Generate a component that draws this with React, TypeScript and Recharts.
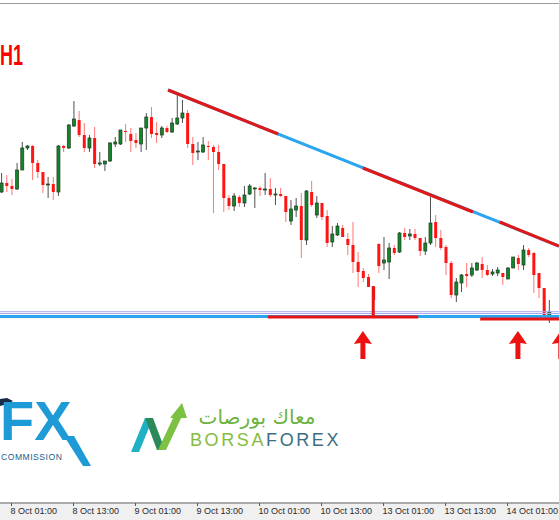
import React from 'react';
import { ComposedChart, Bar, XAxis, YAxis, ReferenceLine, ReferenceDot } from 'recharts';

// H1 candles, 7 Oct 23:00 -> 14 Oct 09:00 (weekend gap after bar 72)
const open = [
  1.1708, 1.1717, 1.1714, 1.1711, 1.1730, 1.1752, 1.1754, 1.1737, 1.1728, 1.1715,
  1.1716, 1.1708, 1.1754, 1.1752, 1.1774, 1.1780, 1.1765, 1.1752, 1.1762, 1.1736,
  1.1736, 1.1739, 1.1756, 1.1756, 1.1769, 1.1766, 1.1760, 1.1756, 1.1772, 1.1783,
  1.1767, 1.1765, 1.1772, 1.1768, 1.1776, 1.1782, 1.1787, 1.1756, 1.1748, 1.1748,
  1.1754, 1.1753, 1.1748, 1.1736, 1.1702, 1.1694, 1.1703, 1.1697, 1.1706, 1.1711,
  1.1712, 1.1710, 1.1711, 1.1705, 1.1706, 1.1704, 1.1679, 1.1690, 1.1694, 1.1660,
  1.1708, 1.1685, 1.1697, 1.1684, 1.1658, 1.1665, 1.1672, 1.1661, 1.1655, 1.1638,
  1.1629, 1.1623, 1.1613, 1.1656, 1.1637, 1.1638, 1.1652, 1.1648, 1.1667, 1.1664,
  1.1666, 1.1662, 1.1649, 1.1657, 1.1678, 1.1662, 1.1653, 1.1637, 1.1605, 1.1617,
  1.1626, 1.1625, 1.1630, 1.1636, 1.1630, 1.1626, 1.1627, 1.1627, 1.1621, 1.1632,
  1.1642, 1.1635, 1.1650, 1.1647, 1.1627, 1.1612, 1.1584,
];
const high = [
  1.1727, 1.1725, 1.1721, 1.1737, 1.1758, 1.1755, 1.1755, 1.1740, 1.1728, 1.1723,
  1.1723, 1.1755, 1.1755, 1.1776, 1.1799, 1.1789, 1.1777, 1.1765, 1.1773, 1.1748,
  1.1739, 1.1758, 1.1763, 1.1770, 1.1776, 1.1772, 1.1767, 1.1772, 1.1787, 1.1793,
  1.1778, 1.1774, 1.1774, 1.1782, 1.1807, 1.1800, 1.1790, 1.1763, 1.1758, 1.1763,
  1.1759, 1.1755, 1.1755, 1.1736, 1.1705, 1.1707, 1.1705, 1.1714, 1.1716, 1.1713,
  1.1714, 1.1727, 1.1722, 1.1712, 1.1712, 1.1704, 1.1700, 1.1702, 1.1707, 1.1710,
  1.1719, 1.1704, 1.1697, 1.1690, 1.1674, 1.1677, 1.1675, 1.1667, 1.1678, 1.1648,
  1.1632, 1.1626, 1.1614, 1.1657, 1.1663, 1.1657, 1.1655, 1.1668, 1.1672, 1.1671,
  1.1671, 1.1662, 1.1663, 1.1703, 1.1685, 1.1670, 1.1655, 1.1639, 1.1622, 1.1626,
  1.1637, 1.1637, 1.1638, 1.1643, 1.1635, 1.1631, 1.1633, 1.1627, 1.1633, 1.1643,
  1.1645, 1.1655, 1.1652, 1.1648, 1.1627, 1.1612, 1.1600,
];
const low = [
  1.1707, 1.1708, 1.1705, 1.1710, 1.1730, 1.1750, 1.1720, 1.1722, 1.1707, 1.1702,
  1.1700, 1.1704, 1.1748, 1.1751, 1.1773, 1.1763, 1.1748, 1.1748, 1.1732, 1.1734,
  1.1729, 1.1738, 1.1753, 1.1755, 1.1758, 1.1748, 1.1752, 1.1748, 1.1750, 1.1762,
  1.1757, 1.1762, 1.1767, 1.1767, 1.1775, 1.1777, 1.1752, 1.1735, 1.1740, 1.1747,
  1.1740, 1.1687, 1.1730, 1.1688, 1.1690, 1.1689, 1.1693, 1.1693, 1.1705, 1.1692,
  1.1704, 1.1705, 1.1703, 1.1695, 1.1703, 1.1678, 1.1675, 1.1683, 1.1642, 1.1655,
  1.1693, 1.1682, 1.1680, 1.1653, 1.1653, 1.1664, 1.1663, 1.1645, 1.1627, 1.1613,
  1.1618, 1.1613, 1.1597, 1.1627, 1.1630, 1.1621, 1.1645, 1.1647, 1.1660, 1.1660,
  1.1660, 1.1644, 1.1645, 1.1655, 1.1653, 1.1650, 1.1625, 1.1602, 1.1598, 1.1608,
  1.1613, 1.1623, 1.1629, 1.1622, 1.1624, 1.1624, 1.1624, 1.1615, 1.1621, 1.1632,
  1.1630, 1.1630, 1.1643, 1.1607, 1.1602, 1.1583, 1.1577,
];
const close = [
  1.1717, 1.1714, 1.1711, 1.1730, 1.1752, 1.1754, 1.1737, 1.1728, 1.1715, 1.1716,
  1.1708, 1.1754, 1.1752, 1.1775, 1.1781, 1.1765, 1.1752, 1.1762, 1.1736, 1.1737,
  1.1739, 1.1757, 1.1758, 1.1770, 1.1768, 1.1759, 1.1757, 1.1772, 1.1783, 1.1766,
  1.1765, 1.1772, 1.1768, 1.1777, 1.1782, 1.1787, 1.1756, 1.1747, 1.1749, 1.1755,
  1.1753, 1.1748, 1.1736, 1.1702, 1.1694, 1.1704, 1.1697, 1.1705, 1.1714, 1.1712,
  1.1710, 1.1711, 1.1705, 1.1706, 1.1704, 1.1688, 1.1691, 1.1694, 1.1660, 1.1709,
  1.1695, 1.1697, 1.1683, 1.1657, 1.1666, 1.1674, 1.1663, 1.1655, 1.1638, 1.1628,
  1.1622, 1.1613, 1.1600, 1.1634, 1.1640, 1.1652, 1.1647, 1.1667, 1.1663, 1.1666,
  1.1662, 1.1649, 1.1657, 1.1677, 1.1662, 1.1652, 1.1637, 1.1605, 1.1618, 1.1625,
  1.1624, 1.1632, 1.1637, 1.1630, 1.1625, 1.1628, 1.1630, 1.1623, 1.1632, 1.1643,
  1.1636, 1.1650, 1.1645, 1.1625, 1.1612, 1.1584, 1.1588,
];

const tickBars = [2, 14, 26, 38, 50, 62, 74, 86, 98];
const tickLabels = [
  '8 Oct 01:00', '8 Oct 13:00', '9 Oct 01:00', '9 Oct 13:00', '10 Oct 01:00',
  '10 Oct 13:00', '13 Oct 01:00', '13 Oct 13:00', '14 Oct 01:00',
];

// drawn objects: [barFrom, priceFrom, barTo, priceTo]
const trendLine = [32.3, 1.181, 107.95, 1.1654];
const trendRedParts = [
  [32.3, 1.181, 53.6, 1.1766],
  [70, 1.1732, 91.3, 1.1688],
  [96.5, 1.1678, 107.95, 1.1654],
];
const supportLevel = 1.15835;
// [barFrom, barTo, price]
const supportRedParts = [
  [51.6, 80.7, 1.1583],
  [92.7, 107.95, 1.1581],
];
const thinLevels = [1.15883, 1.15865];
const touchBar = 72;
const arrowBars = [70, 100, 108.3];
const arrowTip = 1.1569;

const X_DOMAIN: [number, number] = [-0.23, 107.95];
const Y_DOMAIN: [number, number] = [1.1397, 1.1897];

const candles = open.map((o, i) => ({
  i,
  open: o,
  high: high[i],
  low: low[i],
  close: close[i],
  range: [low[i], high[i]],
}));

const Candle = (props: any) => {
  const { x, y, width, height, payload } = props;
  if (x == null || y == null) return null;
  const top = Math.min(y, y + height);
  const h = Math.abs(height);
  const cx = x + width / 2;
  const { open: o, close: c, high: hi, low: lo } = payload;
  const span = hi - lo || 1;
  const py = (p: number) => top + ((hi - p) / span) * h;
  const bull = c >= o;
  const bodyTop = py(Math.max(o, c));
  const bodyH = Math.max(1, py(Math.min(o, c)) - bodyTop);
  return (
    <g>
      <line x1={cx} x2={cx} y1={top} y2={top + h} stroke={bull ? '#505050' : '#ff7676'} strokeWidth={1} />
      <rect
        x={cx - 1.5}
        y={bodyTop}
        width={3}
        height={bodyH}
        fill={bull ? '#13862a' : '#ff1414'}
        stroke={bull ? '#1e3a22' : 'none'}
        strokeWidth={0.7}
      />
    </g>
  );
};

const AxisTick = (props: any) => {
  const { x, y, payload } = props;
  const label = tickLabels[tickBars.indexOf(payload.value)];
  return (
    <g>
      <line x1={x} x2={x} y1={y} y2={y + 3} stroke="#555" />
      <text x={x - 1} y={y + 10.5} textAnchor="start" fontSize={9} fontFamily="Liberation Sans, Arial, sans-serif" fill="#2a2a2a">
        {label}
      </text>
    </g>
  );
};

const UpArrow = ({ cx, cy }: { cx: number; cy: number }) => (
  <path
    d={`M${cx} ${cy} L${cx + 9} ${cy + 13} L${cx + 2.5} ${cy + 12} L${cx + 2.5} ${cy + 28} L${cx - 2.5} ${cy + 28} L${cx - 2.5} ${cy + 12} L${cx - 9} ${cy + 13} Z`}
    fill="#ee1111"
  />
);

const Logos = () => (
  <svg width={559} height={520} style={{ position: 'absolute', left: 0, top: 0, pointerEvents: 'none' }}>
    <line x1={0} x2={559} y1={3.5} y2={3.5} stroke="#9a9a9a" />
    <text
      x={0}
      y={65}
      fontSize={30}
      textLength={23}
      lengthAdjust="spacingAndGlyphs"
      fontWeight="bold"
      fontFamily="Liberation Sans, Arial, sans-serif"
      fill="#ff0000"
    >
      H1
    </text>

    {/* commission badge */}
    <path d="M0 399 L7 398 L13 401 L8 404 L0 406 Z" fill="#1b2a48" />
    <text x={0} y={440} fontSize={56} fontWeight="bold" fontFamily="Liberation Sans, Arial, sans-serif" fill="#1e9ad6">
      FX
    </text>
    <polygon points="64,436 74,436 91,466 83,466" fill="#1e9ad6" />
    <text x={1} y={460} fontSize={8.6} letterSpacing={0.5} fontFamily="Liberation Sans, Arial, sans-serif" fill="#1d5e8c">
      COMMISSION
    </text>

    {/* borsaforex mark */}
    <polygon points="131,452 139,452 153,418 145,418" fill="#1fb0c6" />
    <polygon points="145,418 153,418 165,450 157,450" fill="#2b8a5a" />
    <polygon points="158,450 166,450 183,414 175,414" fill="#7cc142" />
    <polygon points="170,418 187,418 182,403" fill="#7cc142" />
    <text x={257} y={424} textAnchor="middle" fontSize={20} fontFamily="DejaVu Sans, sans-serif" fill="#6db33f">
      معاك بورصات
    </text>
    <text x={190} y={446} fontSize={18} letterSpacing={2.6} fontFamily="Liberation Sans, Arial, sans-serif">
      <tspan fill="#86bc3e">BORSA</tspan>
      <tspan fill="#3c6e82">FOREX</tspan>
    </text>
  </svg>
);

export default function App() {
  return (
    <div style={{ position: 'absolute', left: 0, top: 0, width: 559, height: 520, background: '#fff', overflow: 'hidden' }}>
      <div style={{ position: 'absolute', left: 0, top: 504, width: 559, height: 16, background: '#f0f0f0' }} />
      <div style={{ position: 'absolute', left: 0, top: 0 }}>
        <ComposedChart width={559} height={520} data={candles} margin={{ top: 3, right: 0, bottom: 0, left: 0 }}>
          <XAxis
            dataKey="i"
            type="number"
            domain={X_DOMAIN}
            allowDataOverflow
            ticks={tickBars}
            interval={0}
            height={17}
            tickSize={0}
            tickMargin={0}
            axisLine={{ stroke: '#555' }}
            tickLine={false}
            tick={<AxisTick />}
          />
          <YAxis hide type="number" domain={Y_DOMAIN} allowDataOverflow />
          <Bar dataKey="range" barSize={4} isAnimationActive={false} shape={(p: any) => <Candle {...p} />} />

          {thinLevels.map((lv) => (
            <ReferenceLine key={lv} y={lv} stroke="#a9a9ee" strokeWidth={1} />
          ))}
          <ReferenceLine y={supportLevel} stroke="#2aa5ef" strokeWidth={3} />
          {supportRedParts.map(([a, b, p]) => (
            <ReferenceLine key={a} segment={[{ x: a, y: p }, { x: b, y: p }]} stroke="#e81515" strokeWidth={3} ifOverflow="visible" />
          ))}
          <ReferenceLine
            segment={[{ x: touchBar, y: high[touchBar] }, { x: touchBar, y: supportLevel }]}
            stroke="#e81515"
            strokeWidth={3}
          />

          <ReferenceLine
            segment={[{ x: trendLine[0], y: trendLine[1] }, { x: trendLine[2], y: trendLine[3] }]}
            stroke="#2aa5ef"
            strokeWidth={3}
            ifOverflow="visible"
          />
          {trendRedParts.map(([a, pa, b, pb]) => (
            <ReferenceLine key={a} segment={[{ x: a, y: pa }, { x: b, y: pb }]} stroke="#e01818" strokeWidth={3} ifOverflow="visible" />
          ))}

          {arrowBars.map((b) => (
            <ReferenceDot
              key={b}
              x={b}
              y={arrowTip}
              r={0}
              ifOverflow="visible"
              shape={(p: any) => <UpArrow cx={p.cx} cy={p.cy} />}
            />
          ))}
        </ComposedChart>
      </div>
      <Logos />
    </div>
  );
}
